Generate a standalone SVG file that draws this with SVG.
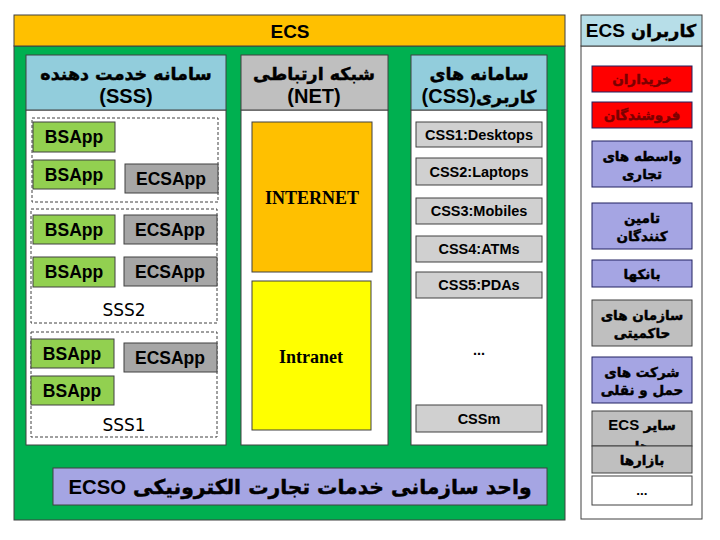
<svg xmlns="http://www.w3.org/2000/svg" width="720" height="540" viewBox="0 0 720 540">
<defs>
<clipPath id="clipU8"><rect x="592" y="411" width="100" height="35"/></clipPath>
</defs>
<style>
text{font-family:"Liberation Sans","DejaVu Sans",sans-serif;text-anchor:middle;fill:#000}
.b{font-weight:bold}
.fa{direction:rtl;font-family:"DejaVu Sans",sans-serif;font-weight:bold;stroke:#000;stroke-width:0.45px}
.lat{font-family:"Liberation Sans",sans-serif;font-weight:bold;stroke:none}
.pane{fill:#fff;stroke:#404040;stroke-width:1}
.hdr{stroke:#404040;stroke-width:1}
.bs{fill:#92D050;stroke:#404040;stroke-width:1}
.ea{fill:#A6A6A6;stroke:#404040;stroke-width:1}
.css{fill:#D0D0D0;stroke:#404040;stroke-width:1}
.grp{fill:none;stroke:#404040;stroke-width:1;stroke-dasharray:3,2}
.usr{stroke:#202060;stroke-width:1}
.app{font-size:17.5px;font-weight:bold}
.cl{font-size:14.5px;font-weight:bold}
.ut{font-size:13.5px}
.ser{font-family:"Liberation Serif",serif;font-weight:bold;font-size:18px}
.dv{font-family:"DejaVu Sans",sans-serif;font-size:17px}
.red{fill:#7A0000;stroke:#7A0000}
</style>
<rect width="720" height="540" fill="#fff"/>
<g id="ecs">
<rect x="14" y="46" width="551" height="474" fill="#00B050" stroke="#404040"/>
<rect x="14" y="15" width="551" height="31" fill="#FFC000" stroke="#404040"/>
<text x="290" y="38" class="b" font-size="19">ECS</text>
</g>
<g id="sss">
<rect x="26" y="110" width="200" height="335" class="pane"/>
<rect x="26" y="55" width="200" height="55" fill="#92CDDC" class="hdr"/>
<text x="126" y="80" class="fa" font-size="17.5">سامانه خدمت دهنده</text>
<text x="126" y="103" class="b" font-size="20">(SSS)</text>
</g>
<g id="sss-group-a">
<rect x="32" y="118" width="186" height="84" class="grp"/>
<rect x="33" y="122" width="82" height="30" class="bs"/><text x="74" y="143" class="app">BSApp</text>
<rect x="33" y="160" width="82" height="29" class="bs"/><text x="74" y="181" class="app">BSApp</text>
<rect x="125" y="164" width="93" height="29" class="ea"/><text x="171" y="185" class="app">ECSApp</text>
</g>
<g id="sss2">
<rect x="31" y="209" width="186" height="114" class="grp"/>
<rect x="33" y="215" width="82" height="29" class="bs"/><text x="74" y="236" class="app">BSApp</text>
<rect x="124" y="215" width="93" height="29" class="ea"/><text x="170" y="236" class="app">ECSApp</text>
<rect x="33" y="257" width="82" height="30" class="bs"/><text x="74" y="278" class="app">BSApp</text>
<rect x="124" y="257" width="93" height="29" class="ea"/><text x="170" y="278" class="app">ECSApp</text>
<text x="124" y="316" class="dv">SSS2</text>
</g>
<g id="sss1">
<rect x="31" y="332" width="186" height="105" class="grp"/>
<rect x="31" y="339" width="83" height="29" class="bs"/><text x="72" y="360" class="app">BSApp</text>
<rect x="124" y="343" width="93" height="29" class="ea"/><text x="170" y="364" class="app">ECSApp</text>
<rect x="31" y="376" width="83" height="29" class="bs"/><text x="72" y="397" class="app">BSApp</text>
<text x="124" y="431" class="dv">SSS1</text>
</g>
<g id="net">
<rect x="241" y="110" width="147" height="335" class="pane"/>
<rect x="241" y="55" width="147" height="55" fill="#BFBFBF" class="hdr"/>
<text x="314" y="80" class="fa" font-size="17.5">شبکه ارتباطی</text>
<text x="314" y="103" class="b" font-size="20">(NET)</text>
</g>
<g id="internet">
<rect x="252" y="122" width="120" height="150" fill="#FFC000" stroke="#404040"/>
<text x="312" y="204" class="ser">INTERNET</text>
</g>
<g id="intranet">
<rect x="252" y="281" width="119" height="149" fill="#FFFF00" stroke="#404040"/>
<text x="311" y="363" class="ser">Intranet</text>
</g>
<g id="css">
<rect x="411" y="110" width="136" height="335" class="pane"/>
<rect x="411" y="55" width="136" height="55" fill="#92CDDC" class="hdr"/>
<text x="479" y="80" class="fa" font-size="17.5">سامانه های</text>
<text x="479" y="103" class="fa" font-size="17.5">کاربری<tspan class="lat" font-size="20">(CSS)</tspan></text>
</g>
<g id="css-items">
<rect x="416" y="122" width="126" height="25" class="css"/><text x="479" y="140" class="cl">CSS1:Desktops</text>
<rect x="416" y="158" width="126" height="27" class="css"/><text x="479" y="177" class="cl">CSS2:Laptops</text>
<rect x="416" y="198" width="126" height="26" class="css"/><text x="479" y="216" class="cl">CSS3:Mobiles</text>
<rect x="416" y="236" width="126" height="26" class="css"/><text x="479" y="254" class="cl">CSS4:ATMs</text>
<rect x="416" y="272" width="126" height="26" class="css"/><text x="479" y="290" class="cl">CSS5:PDAs</text>
<text x="479" y="355" class="cl">...</text>
<rect x="416" y="405" width="126" height="27" class="css"/><text x="479" y="424" class="cl">CSSm</text>
</g>
<g id="ecso">
<rect x="53" y="468" width="494" height="37" fill="#A5A5E3" stroke="#404040"/>
<text x="300" y="494" class="fa" font-size="20.3">واحد سازمانی خدمات تجارت الکترونیکی <tspan class="lat">ECSO</tspan></text>
</g>
<g id="users">
<rect x="581" y="46" width="121" height="473" fill="#fff" stroke="#404040"/>
<rect x="581" y="15" width="121" height="31" fill="#B7DEE8" stroke="#404040"/>
<text x="641" y="37" class="fa" font-size="17.5">کاربران <tspan class="lat" font-size="19">ECS</tspan></text>
</g>
<g id="u1"><rect x="592" y="66" width="100" height="26" fill="#FF0000" class="usr"/><text x="642" y="84" class="ut fa red">خریداران</text></g>
<g id="u2"><rect x="592" y="102" width="100" height="26" fill="#FF0000" class="usr"/><text x="642" y="120" class="ut fa red">فروشندگان</text></g>
<g id="u3"><rect x="592" y="141" width="100" height="46" fill="#A5A5E3" class="usr"/><text x="642" y="161" class="ut fa">واسطه های</text><text x="642" y="179" class="ut fa">تجاری</text></g>
<g id="u4"><rect x="592" y="203" width="100" height="46" fill="#A5A5E3" class="usr"/><text x="642" y="223" class="ut fa">تامین</text><text x="642" y="241" class="ut fa">کنندگان</text></g>
<g id="u5"><rect x="592" y="260" width="100" height="27" fill="#A5A5E3" class="usr"/><text x="642" y="279" class="ut fa">بانکها</text></g>
<g id="u6"><rect x="592" y="300" width="100" height="46" fill="#BFBFBF" stroke="#404040"/><text x="642" y="320" class="ut fa">سازمان های</text><text x="642" y="338" class="ut fa">حاکمیتی</text></g>
<g id="u7"><rect x="592" y="357" width="100" height="46" fill="#A5A5E3" class="usr"/><text x="642" y="377" class="ut fa">شرکت های</text><text x="642" y="395" class="ut fa">حمل و نقلی</text></g>
<g id="u8"><rect x="592" y="411" width="100" height="35" fill="#BFBFBF" stroke="#404040"/><text x="642" y="430" class="ut fa">سایر <tspan class="lat" font-size="15">ECS</tspan></text><text x="642" y="451" class="ut fa" clip-path="url(#clipU8)">ها</text></g>
<g id="u9"><rect x="592" y="446" width="100" height="27" fill="#BFBFBF" stroke="#404040"/><text x="642" y="465" class="ut fa">بازارها</text></g>
<g id="u10"><rect x="592" y="476" width="100" height="29" fill="#fff" stroke="#404040"/><text x="642" y="495" class="ut b">...</text></g>
<g id="connectors"></g>
</svg>
